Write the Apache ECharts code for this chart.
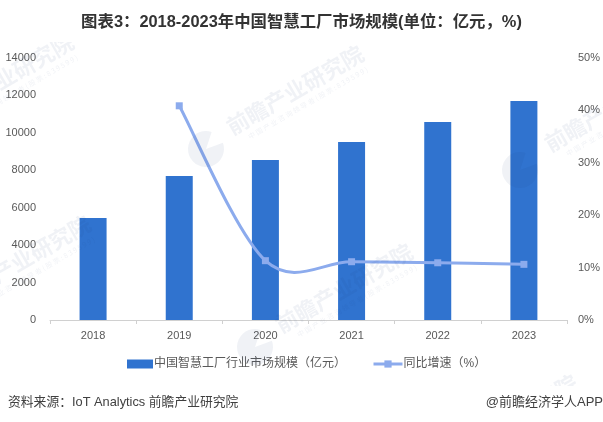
<!DOCTYPE html>
<html><head><meta charset="utf-8">
<style>html,body{margin:0;padding:0;background:#fff}#c{width:603px;height:422px}</style>
<script src="https://cdn.jsdelivr.net/npm/echarts@6/dist/echarts.min.js"></script></head>
<body><div id="c"></div>
<script>
const categories=['2018','2019','2020','2021','2022','2023'];
const marketSize=[5440,7680,8530,9490,10560,11680];
const growth=[null,40.8,11.3,11.1,10.9,10.6];
const barName='中国智慧工厂行业市场规模（亿元）';
const lineName='同比增速（%）';
const titleText='图表3：2018-2023年中国智慧工厂市场规模(单位：亿元，%)';
const sourceText='资料来源：IoT Analytics 前瞻产业研究院';
const brandText='@前瞻经济学人APP';
const wmMain='前瞻产业研究院';
const wmSub='中 国 产 业 咨 询 领 导 者 ( 股 票 : 8 3 9 5 9 9 )';
const cjk='"Liberation Sans","Noto Sans CJK SC",sans-serif';
const wmCentres=[[5,78],[22,260],[295,90],[613,107],[344,288],[509,419]];
const wmLogos=[[206,149],[520,170],[255,347]];
const wmFill='rgba(30,60,120,0.065)';
const lineColor='#8cabed';
const rot=Math.PI/6;
const chart=echarts.init(document.getElementById('c'),null,{renderer:'canvas'});
const gfx=[];
wmCentres.forEach(m=>{
  gfx.push({type:'text',x:m[0],y:m[1],rotation:rot,z:10,silent:true,style:{text:wmMain,fill:wmFill,font:'bold 22px "Noto Sans CJK SC"',textAlign:'center',textVerticalAlign:'middle'}});
  gfx.push({type:'text',x:m[0]+13,y:m[1]+13,rotation:rot,z:10,silent:true,style:{text:wmSub,fill:wmFill,font:'7px "Noto Sans CJK SC"',textAlign:'center',textVerticalAlign:'middle'}});
});
wmLogos.forEach(l=>{
  gfx.push({type:'sector',z:10,silent:true,shape:{cx:l[0],cy:l[1],r:18,r0:0,startAngle:-0.35,endAngle:Math.PI*2-1.25,clockwise:true},style:{fill:wmFill}});
});
gfx.push({type:'rect',z:11,silent:true,shape:{x:0,y:0,width:603,height:42},style:{fill:'#fff'}});
gfx.push({type:'rect',z:11,silent:true,shape:{x:0,y:386,width:603,height:36},style:{fill:'#fff'}});
gfx.push({type:'text',x:8,y:402,z:12,style:{text:sourceText,fill:'#404040',font:'12.8px '+cjk,textVerticalAlign:'middle'}});
gfx.push({type:'text',x:603,y:402,z:12,style:{text:brandText,fill:'#404040',font:'13px '+cjk,textAlign:'right',textVerticalAlign:'middle'}});
const curvePts=growth.map((v,i)=>[i,v]).filter(p=>p[1]!==null);
function renderSegment(params,api){
  const k=params.dataIndex;
  if(k>=curvePts.length-1) return null;
  const c=j=>api.coord(curvePts[Math.max(0,Math.min(curvePts.length-1,j))]);
  const p0=c(k-1),p1=c(k),p2=c(k+1),p3=c(k+2);
  return {type:'bezierCurve',silent:true,
    shape:{x1:p1[0],y1:p1[1],x2:p2[0],y2:p2[1],
      cpx1:p1[0]+(p2[0]-p0[0])/6,cpy1:p1[1]+(p2[1]-p0[1])/6,
      cpx2:p2[0]-(p3[0]-p1[0])/6,cpy2:p2[1]-(p3[1]-p1[1])/6},
    style:{stroke:lineColor,lineWidth:3,fill:null}};
}
const legendBase={top:353,itemHeight:9,textStyle:{fontSize:12,color:'#595959',fontFamily:cjk,padding:[0,0,0,-4]}};
chart.setOption({
  animation:false,
  backgroundColor:'#fff',
  title:{text:titleText,left:'center',top:9,z:20,textStyle:{fontFamily:'"Liberation Sans","Noto Sans CJK SC",sans-serif',fontWeight:'bold',fontSize:16.4,color:'#333'}},
  grid:{left:50,right:35,top:57.5,height:262.5},
  legend:[
    Object.assign({},legendBase,{left:122,itemWidth:26,data:[{name:barName,icon:'rect'}]}),
    Object.assign({},legendBase,{left:367,itemWidth:29,data:[{name:lineName,lineStyle:{width:3,color:lineColor}}]})
  ],
  xAxis:{type:'category',data:categories,axisLine:{lineStyle:{color:'#d0d0d0'}},axisTick:{show:true,length:4,lineStyle:{color:'#d0d0d0'}},axisLabel:{color:'#595959',fontSize:11,margin:10,fontFamily:cjk}},
  yAxis:[
    {type:'value',min:0,max:14000,interval:2000,axisLine:{show:false},axisTick:{show:false},splitLine:{show:false},axisLabel:{color:'#595959',fontSize:11,margin:14,fontFamily:cjk,formatter:v=>String(v)}},
    {type:'value',min:0,max:50,interval:10,axisLine:{show:false},axisTick:{show:false},splitLine:{show:false},axisLabel:{color:'#595959',fontSize:11,margin:11,fontFamily:cjk,formatter:'{value}%'}}
  ],
  series:[
    {name:barName,type:'bar',data:marketSize,barWidth:27,itemStyle:{color:'#3073cf'},z:2},
    {type:'custom',yAxisIndex:1,coordinateSystem:'cartesian2d',data:curvePts,encode:{x:0,y:1},renderItem:renderSegment,clip:false,silent:true,z:3},
    {name:lineName,type:'line',yAxisIndex:1,data:growth,symbol:'rect',symbolSize:7,lineStyle:{width:0,color:lineColor},itemStyle:{color:lineColor},z:4}
  ],
  graphic:gfx
});
</script></body></html>
